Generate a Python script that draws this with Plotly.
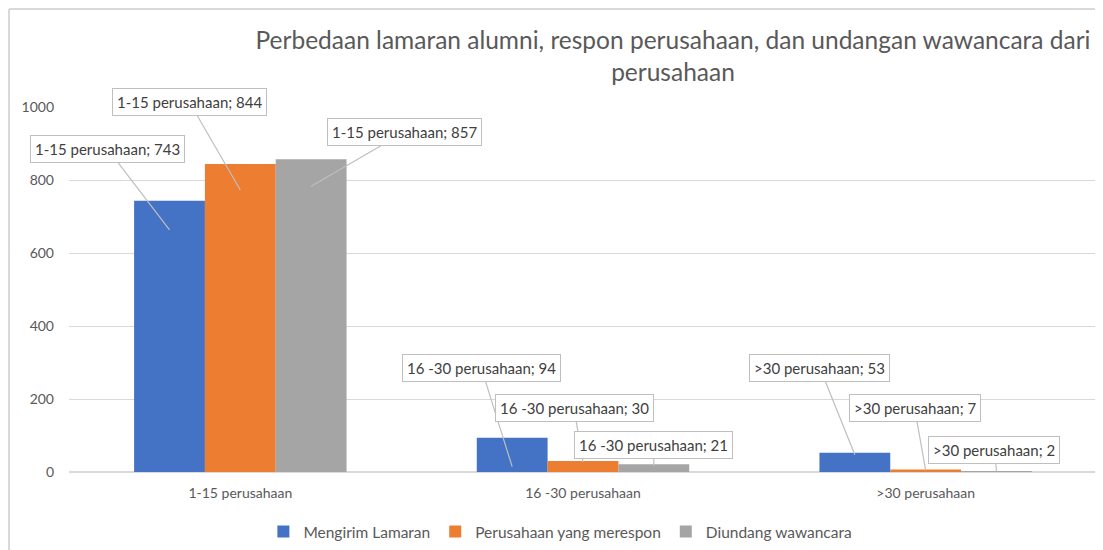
import plotly.graph_objects as go

categories = ["1-15 perusahaan", "16 -30 perusahaan", ">30 perusahaan"]
series_names = ["Mengirim Lamaran", "Perusahaan yang merespon", "Diundang wawancara"]
mengirim = [743, 94, 53]
merespon = [844, 30, 7]
diundang = [857, 21, 2]
colors = ["#4472C4", "#ED7D31", "#A5A5A5"]
title_text = "Perbedaan lamaran alumni, respon perusahaan, dan undangan wawancara dari<br>perusahaan"

values = [mengirim, merespon, diundang]
xpos = list(range(len(categories)))

FONT = "Lato"
TXT = "#595959"

W, H = 1095, 542
L, T, PW, PH = 61, 99, 1028, 365
R = W - L - PW
B = H - T - PH

fig = go.Figure()
for name, vals, col in zip(series_names, values, colors):
    fig.add_trace(go.Bar(x=xpos, y=vals, name=name, marker=dict(color=col, line=dict(width=0))))

# callout label offsets (pixels): (ax, ay, yshift) per series per category
callouts = [
    [(-62, -81, -29), (-31, -99, -29), (-35, -87, -2)],
    [(-51, -88, -26), (-9, -54, -1), (-11, -62, -1)],
    [(93, -54, -27), (0, -21, -2), (-2, -21, 0)],
]
bargap = 0.38
bw = (1 - bargap) / 3
for s, (vals, offs) in enumerate(zip(values, callouts)):
    for i, v in enumerate(vals):
        ax, ay, ys = offs[i]
        fig.add_annotation(
            x=i + (s - 1) * bw, y=v, xref="x", yref="y",
            text=f"{categories[i]}; {v}",
            showarrow=True, arrowhead=0, arrowwidth=1.2, arrowcolor="#bfbfbf",
            ax=ax, ay=ay, yshift=ys, standoff=0,
            bgcolor="white", bordercolor="#bfbfbf", borderwidth=1, borderpad=4,
            font=dict(family=FONT, size=15, color="#404040"),
        )

# frame lines of chart area
fx = (1 - L) / PW
fy = 1 + (T - 1) / PH
fig.add_shape(type="line", xref="paper", yref="paper", x0=fx, x1=1.2, y0=fy, y1=fy,
              line=dict(color="#d9d9d9", width=2))
fig.add_shape(type="line", xref="paper", yref="paper", x0=fx, x1=fx, y0=-0.3, y1=fy,
              line=dict(color="#d9d9d9", width=2))

fig.update_layout(
    width=W, height=H,
    margin=dict(l=L, r=R, t=T, b=B, autoexpand=False),
    paper_bgcolor="white", plot_bgcolor="white",
    barmode="group", bargap=bargap, bargroupgap=0,
    font=dict(family=FONT, size=13, color=TXT),
    title=dict(text=title_text, x=665 / W, xanchor="center", xref="container",
               y=1 - 41 / H, yanchor="top", yref="container",
               font=dict(family=FONT, size=24.5, color=TXT)),
    legend=dict(orientation="h", x=0.478, xanchor="center",
                y=(H - 524) / H, yanchor="middle", yref="container",
                font=dict(family=FONT, size=15.5, color=TXT), itemwidth=30,
                traceorder="normal"),
    xaxis=dict(tickvals=xpos, ticktext=categories, range=[-0.5, 2.5], showgrid=False,
               showline=False, zeroline=False, ticks="", ticklabelstandoff=11,
               tickfont=dict(size=14, color=TXT)),
    yaxis=dict(range=[0, 1000], dtick=200, showgrid=True, gridcolor="#d9d9d9", gridwidth=1,
               zeroline=True, zerolinecolor="#d9d9d9", zerolinewidth=1.5, showline=False,
               ticks="", ticklabelstandoff=14, tickfont=dict(size=14, color=TXT)),
)

fig.write_html("out.html")
